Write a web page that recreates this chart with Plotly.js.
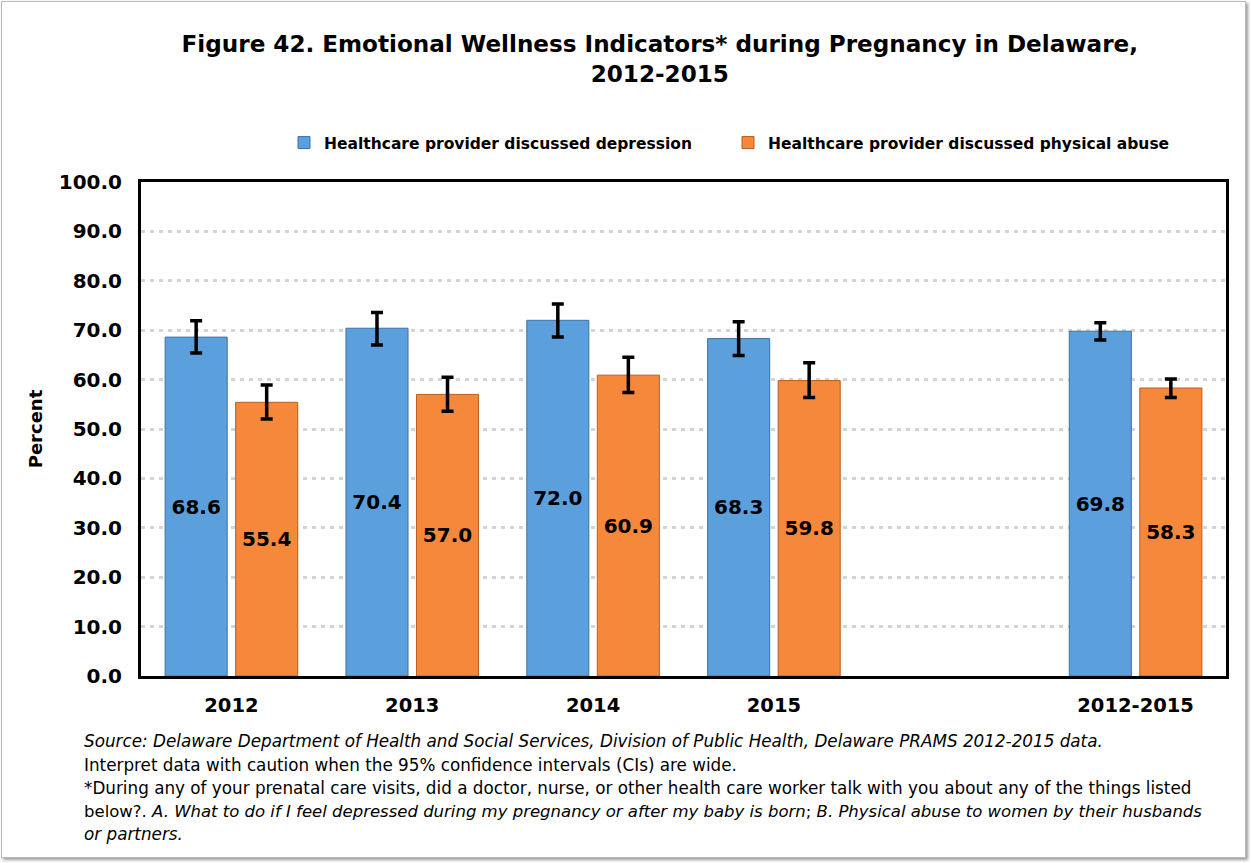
<!DOCTYPE html>
<html>
<head>
<meta charset="utf-8">
<script src="https://cdn.plot.ly/plotly-3.0.1.min.js"></script>
<style>
  html, body { margin: 0; padding: 0; background: #ffffff; }
  #chart { position: absolute; left: 0; top: 0; width: 1252px; height: 863px; }
  #frame { position: absolute; left: 1px; top: 1px; width: 1243px; height: 855px;
           border: 1px solid #b8b8b8; box-shadow: 2px 2px 3px #9a9a9a; pointer-events: none; }
</style>
</head>
<body>
<div id="chart"></div>
<div id="frame"></div>
<script>
// ---- data ----
const categories = ['2012', '2013', '2014', '2015', ' ', '2012-2015'];
const barCategories = ['2012', '2013', '2014', '2015', '2012-2015'];
const seriesNames = ['Healthcare provider discussed depression', 'Healthcare provider discussed physical abuse'];
const depression = [68.6, 70.4, 72.0, 68.3, 69.8];
const depressionLow = [65.4, 67.0, 68.6, 64.9, 68.0];
const depressionHigh = [71.9, 73.6, 75.3, 71.7, 71.5];
const abuse = [55.4, 57.0, 60.9, 59.8, 58.3];
const abuseLow = [52.0, 53.6, 57.4, 56.4, 56.4];
const abuseHigh = [58.9, 60.5, 64.5, 63.4, 60.1];
const yTicks = [0, 10, 20, 30, 40, 50, 60, 70, 80, 90, 100];
const yTickLabels = ['0.0', '10.0', '20.0', '30.0', '40.0', '50.0', '60.0', '70.0', '80.0', '90.0', '100.0'];
const footnoteLines = [
  '<i>Source: Delaware Department of Health and Social Services, Division of Public Health, Delaware PRAMS 2012-2015 data.</i>',
  'Interpret data with caution when the 95% confidence intervals (CIs) are wide.',
  '*During any of your prenatal care visits, did a doctor, nurse, or other health care worker talk with you about any of the things listed',
  'below?. <i>A. What to do if I feel depressed during my pregnancy or after my baby is born</i>; <i>B. Physical abuse to women by their husbands</i>',
  '<i>or partners.</i>'
];

const FONT = 'DejaVu Sans, sans-serif';

function makeTrace(name, vals, lo, hi, color, edge, legendId) {
  return {
    type: 'bar',
    name: name,
    legend: legendId,
    x: barCategories,
    y: vals,
    text: vals.map(v => v.toFixed(1)),
    textposition: 'inside',
    insidetextanchor: 'middle',
    textangle: 0,
    constraintext: 'none',
    textfont: { family: FONT, size: 20, color: '#000000', weight: 'bold' },
    marker: { color: color, line: { color: edge, width: 1 } },
    error_y: {
      type: 'data', symmetric: false,
      array: hi.map((h, i) => h - vals[i]),
      arrayminus: lo.map((l, i) => vals[i] - l),
      color: '#000000', thickness: 3.5, width: 6
    },
    hoverinfo: 'skip'
  };
}

const traces = [
  makeTrace(seriesNames[0], depression, depressionLow, depressionHigh, '#5B9FDD', '#3E72A6', 'legend'),
  makeTrace(seriesNames[1], abuse, abuseLow, abuseHigh, '#F5883A', '#B85E1E', 'legend2')
];

const legendFont = { family: FONT, size: 15.5, color: '#000000', weight: 'bold' };
const footY = [741, 765, 788, 811, 834];
const footSize = [16.8, 16.8, 16.8, 16.5, 16.8];

const layout = {
  width: 1252, height: 863,
  margin: { l: 141, r: 26, t: 182, b: 187 },
  paper_bgcolor: '#ffffff', plot_bgcolor: '#ffffff',
  font: { family: FONT, color: '#000000' },
  title: {
    text: '<b>Figure 42. Emotional Wellness Indicators* during Pregnancy in Delaware,<br>2012-2015</b>',
    font: { family: FONT, size: 23.1, color: '#000000' },
    xref: 'container', x: 0.527, xanchor: 'center',
    yref: 'container', y: 0.94, yanchor: 'top'
  },
  barmode: 'group',
  bargap: 0.22,
  bargroupgap: 0.12,
  showlegend: true,
  legend: {
    orientation: 'h',
    xref: 'container', x: 284 / 1252, xanchor: 'left',
    yref: 'container', y: 1 - 143 / 863, yanchor: 'middle',
    font: legendFont, itemwidth: 30
  },
  legend2: {
    orientation: 'h',
    xref: 'container', x: 728 / 1252, xanchor: 'left',
    yref: 'container', y: 1 - 143 / 863, yanchor: 'middle',
    font: legendFont, itemwidth: 30
  },
  xaxis: {
    type: 'category',
    categoryorder: 'array',
    categoryarray: categories,
    range: [-0.5, 5.5],
    tickfont: { family: FONT, size: 19.5, color: '#000000', weight: 'bold' },
    showline: true, mirror: true, linecolor: '#000000', linewidth: 3,
    ticks: '', ticklabelstandoff: 10, showgrid: false, zeroline: false,
    fixedrange: true
  },
  yaxis: {
    range: [0, 100],
    tickvals: yTicks,
    ticktext: yTickLabels,
    tickfont: { family: FONT, size: 20, color: '#000000', weight: 'bold' },
    showline: true, mirror: true, linecolor: '#000000', linewidth: 3,
    ticks: '', ticklabelstandoff: 12,
    showgrid: true, gridcolor: '#d4d4d4', gridwidth: 3, griddash: '4px,5px',
    zeroline: false,
    title: { text: '<b>Percent</b>', font: { family: FONT, size: 18, color: '#000000' }, standoff: 12 },
    fixedrange: true
  },
  annotations: footnoteLines.map((t, i) => ({
    xref: 'paper', yref: 'paper',
    x: (82 - 141) / 1085, y: (676 - footY[i]) / 494, xanchor: 'left', yanchor: 'middle',
    align: 'left', showarrow: false,
    font: { family: FONT, size: footSize[i], color: '#000000' },
    text: t
  }))
};

Plotly.newPlot('chart', traces, layout, { displayModeBar: false, staticPlot: true });
</script>
</body>
</html>
